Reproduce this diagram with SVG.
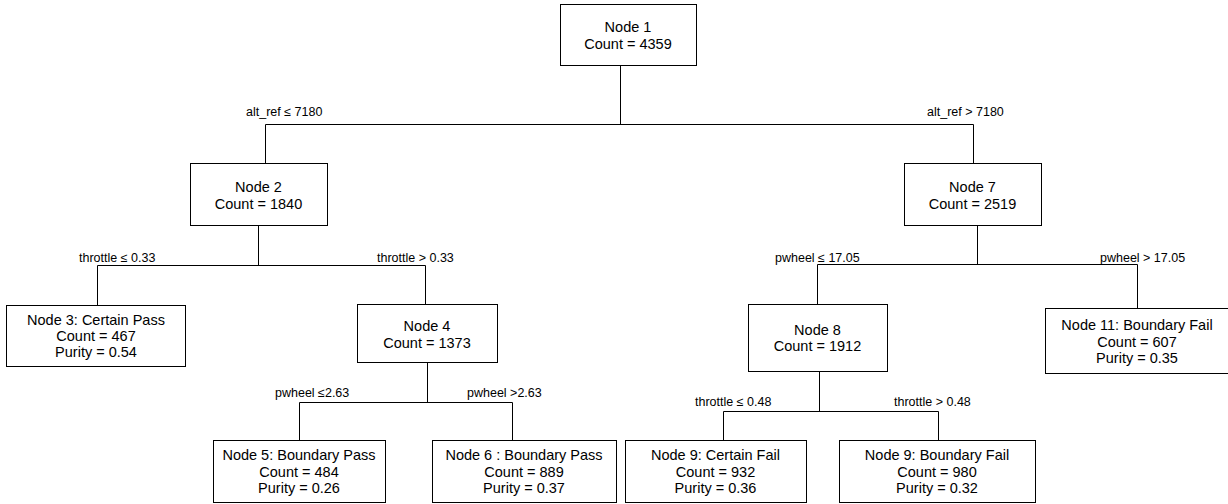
<svg xmlns="http://www.w3.org/2000/svg" width="1228" height="504" viewBox="0 0 1228 504">
<style>
.box{fill:#fff;stroke:#000;stroke-width:1}
.t{font-family:"Liberation Sans",Arial,sans-serif;font-size:14.5px;fill:#000;text-anchor:middle}
.l{font-family:"Liberation Sans",Arial,sans-serif;font-size:12.5px;fill:#000}
.c{fill:none;stroke:#000;stroke-width:1}
</style>
<rect width="1228" height="504" fill="#fff"/>
<g id="connectors">
<path class="c" d="M620.5,65 V124.5 M265.5,163 V124.5 H973.5 V163"/>
<path class="c" d="M258.5,225 V265 M97.5,305 V265.5 H425.5 V304"/>
<path class="c" d="M427.5,362 V402.5 M299.5,440 V402.5 H512.5 V440"/>
<path class="c" d="M977.5,225 V264.5 M817.5,304 V264.5 H1137.5 V308"/>
<path class="c" d="M819.5,371 V411.5 M723.5,440 V411.5 H938.5 V440"/>
<text class="l" x="246" y="116">alt_ref ≤ 7180</text>
<text class="l" x="927" y="116">alt_ref &gt; 7180</text>
<text class="l" x="79" y="262">throttle ≤ 0.33</text>
<text class="l" x="377" y="262">throttle &gt; 0.33</text>
<text class="l" x="275" y="397">pwheel ≤2.63</text>
<text class="l" x="467" y="397">pwheel &gt;2.63</text>
<text class="l" x="775" y="262">pwheel ≤ 17.05</text>
<text class="l" x="1100" y="262">pwheel &gt; 17.05</text>
<text class="l" x="695" y="406">throttle ≤ 0.48</text>
<text class="l" x="894" y="406">throttle &gt; 0.48</text>
</g>
<g id="node1"><rect class="box" x="560.5" y="4.5" width="136" height="61"/>
<text class="t" x="628" y="32">Node 1</text><text class="t" x="628" y="49">Count = 4359</text></g>
<g id="node2"><rect class="box" x="190.5" y="163.5" width="137" height="62"/>
<text class="t" x="258.5" y="192">Node 2</text><text class="t" x="258.5" y="208.5">Count = 1840</text></g>
<g id="node3"><rect class="box" x="6.5" y="305.5" width="179" height="61"/>
<text class="t" x="96" y="324.5">Node 3: Certain Pass</text><text class="t" x="96" y="341">Count = 467</text><text class="t" x="96" y="356.5">Purity = 0.54</text></g>
<g id="node4"><rect class="box" x="357.5" y="304.5" width="140" height="58"/>
<text class="t" x="427" y="331">Node 4</text><text class="t" x="427" y="347.5">Count = 1373</text></g>
<g id="node5"><rect class="box" x="213.5" y="440.5" width="172" height="62"/>
<text class="t" x="299" y="460">Node 5: Boundary Pass</text><text class="t" x="299" y="476.5">Count = 484</text><text class="t" x="299" y="492.5">Purity = 0.26</text></g>
<g id="node6"><rect class="box" x="432.5" y="440.5" width="184" height="62"/>
<text class="t" x="524" y="460">Node 6 : Boundary Pass</text><text class="t" x="524" y="476.5">Count = 889</text><text class="t" x="524" y="492.5">Purity = 0.37</text></g>
<g id="node7"><rect class="box" x="904.5" y="163.5" width="137" height="62"/>
<text class="t" x="972.5" y="192">Node 7</text><text class="t" x="972.5" y="208.5">Count = 2519</text></g>
<g id="node8"><rect class="box" x="748.5" y="304.5" width="139" height="67"/>
<text class="t" x="817.5" y="334.5">Node 8</text><text class="t" x="817.5" y="351">Count = 1912</text></g>
<g id="node9a"><rect class="box" x="625.5" y="440.5" width="181" height="62"/>
<text class="t" x="715.5" y="460">Node 9: Certain Fail</text><text class="t" x="715.5" y="476.5">Count = 932</text><text class="t" x="715.5" y="492.5">Purity = 0.36</text></g>
<g id="node9b"><rect class="box" x="839.5" y="440.5" width="196" height="62"/>
<text class="t" x="937" y="460">Node 9: Boundary Fail</text><text class="t" x="937" y="476.5">Count = 980</text><text class="t" x="937" y="492.5">Purity = 0.32</text></g>
<g id="node11"><rect class="box" x="1045.5" y="308.5" width="200" height="65"/>
<text class="t" x="1137" y="329.5">Node 11: Boundary Fail</text><text class="t" x="1137" y="346.5">Count = 607</text><text class="t" x="1137" y="363">Purity = 0.35</text></g>
</svg>
